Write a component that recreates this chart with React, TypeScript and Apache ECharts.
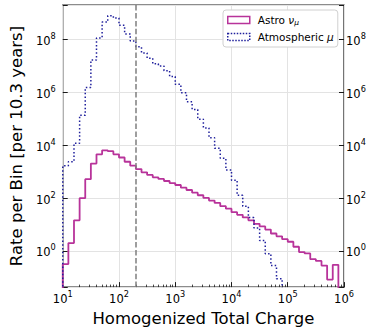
import React, { useEffect, useRef } from 'react';
import * as echarts from 'echarts';

// Histogram binning: 50 log-uniform bins from 10^1 to 10^6
const binLogMin = 1;
const binLogMax = 6;
const binCount = 50;

// Rate per bin [per 10.3 years]
const astroNuMu = [
  0.32, 2.0, 14.5, 100, 525, 2040, 4570, 6460, 6030, 4570,
  3470, 2400, 1700, 1260, 955, 760, 617, 537, 447, 372,
  316, 251, 204, 162, 129, 102, 81, 66, 50, 40,
  29.5, 23.4, 18.6, 14.5, 10.7, 8.5, 6.5, 4.6, 3.6, 2.8,
  2.24, 1.45, 0.91, 0.81, 0.49, 0.42, 0.28, 0.083, 0.3, 0,
];

const atmosphericMu = [
  1700, 2400, 12000, 138000, 1.55e6, 1.7e7, 1.17e8, 4.68e8, 8.13e8, 6.6e8,
  3.55e8, 1.66e8, 8.9e7, 5.37e7, 3.16e7, 2.0e7, 1.23e7, 1.02e7, 6.76e6, 4.07e6,
  2.04e6, 9.8e5, 4.47e5, 2.29e5, 9.8e4, 4.57e4, 1.95e4, 7760, 3240, 1175,
  479, 129, 49, 18.6, 7.4, 2.5, 0.79, 0.28, 0.089, 0,
  0, 0, 0, 0, 0, 0, 0, 0, 0, 0,
];

const seriesNames = ['Astro ν_μ', 'Atmospheric μ'];
const thresholdCharge = 200;

// axis extents (log10 space)
const xLogMin = 1;
const xLogMax = 6;
const yLogMin = -1.367;
const yLogMax = 9.315;
const yMajorExponents = [0, 2, 4, 6, 8];
const xMinorMultipliers = [2, 3, 4, 5, 6, 7, 8, 9];

const FONT = "'DejaVu Sans', sans-serif";
const MAGENTA = '#b8339a';
const BLUE = '#1f1f9c';
const FRAME = '#1a1a1a';

function stepData(values: number[]): number[][] {
  const floor = yLogMin - 6;
  const w = (binLogMax - binLogMin) / binCount;
  const lv = values.map((v) => (v > 0 ? Math.log10(v) : floor));
  const pts: number[][] = [[binLogMin, floor]];
  lv.forEach((v, i) => pts.push([binLogMin + i * w, v]));
  pts.push([binLogMax, lv[lv.length - 1]]);
  pts.push([binLogMax, floor]);
  return pts;
}

const xMinorTicks: number[] = [];
for (let e = xLogMin; e < xLogMax; e++) {
  xMinorMultipliers.forEach((m) => xMinorTicks.push(e + Math.log10(m)));
}

const tickRich = {
  b: { fontFamily: FONT, fontSize: 11.5, color: '#000', lineHeight: 15, verticalAlign: 'bottom' },
  s: { fontFamily: FONT, fontSize: 8.2, color: '#000', lineHeight: 9, verticalAlign: 'top' },
};

function powLabelX(v: number): string {
  const r = Math.round(v);
  if (Math.abs(v - r) > 1e-6) return '';
  return `{b|10}{s|${r}}`;
}
function powLabelY(v: number): string {
  const r = Math.round(v);
  if (Math.abs(v - r) > 1e-6 || yMajorExponents.indexOf(r) < 0) return '';
  return `{b|10}{s|${r}}`;
}

export default function App() {
  const ref = useRef<HTMLDivElement>(null);
  useEffect(() => {
    if (!ref.current) return;
    const chart = echarts.init(ref.current, null, { renderer: 'svg' });
    const yAxisCommon = {
      type: 'value',
      min: yLogMin,
      max: yLogMax,
      splitNumber: 5,
      axisLine: { show: false, onZero: false },
      axisTick: { show: true, inside: true, length: 5, lineStyle: { color: FRAME, width: 1 } },
    };
    const option: any = {
      animation: false,
      backgroundColor: '#ffffff',
      textStyle: { fontFamily: FONT },
      grid: {
        left: 49,
        top: 5,
        right: 30,
        bottom: 40,
        show: true,
        borderColor: FRAME,
        borderWidth: 1.2,
        backgroundColor: 'transparent',
      },
      legend: {
        orient: 'vertical',
        left: 223,
        top: 10,
        padding: [4, 4, 4, 4],
        itemGap: 5,
        itemWidth: 22,
        itemHeight: 7,
        backgroundColor: '#ffffff',
        borderColor: '#d0d0d0',
        borderWidth: 1,
        borderRadius: 3,
        selectedMode: false,
        textStyle: {
          fontFamily: FONT,
          fontSize: 10.5,
          color: '#000',
          lineHeight: 12,
          padding: [0, 0, 0, 3],
          rich: {
            it: { fontFamily: FONT, fontSize: 10.5, fontStyle: 'italic', color: '#000' },
            sub: { fontFamily: FONT, fontSize: 7.5, fontStyle: 'italic', color: '#000', verticalAlign: 'bottom', lineHeight: 10 },
          },
        },
        formatter: (name: string) =>
          name === seriesNames[0] ? 'Astro {it|ν}{sub|μ}' : 'Atmospheric {it|μ}',
        data: [
          {
            name: seriesNames[0],
            icon: 'rect',
            itemStyle: { color: 'rgba(255,255,255,0)', borderColor: MAGENTA, borderWidth: 1.5 },
          },
          {
            name: seriesNames[1],
            icon: 'rect',
            itemStyle: { color: 'rgba(255,255,255,0)', borderColor: BLUE, borderWidth: 1.5, borderType: [1.5, 1.5] },
          },
        ],
      },
      xAxis: [
        {
          type: 'value',
          min: xLogMin,
          max: xLogMax,
          interval: 1,
          position: 'bottom',
          name: 'Homogenized Total Charge',
          nameLocation: 'middle',
          nameGap: 14,
          nameTextStyle: { fontFamily: FONT, fontSize: 16.5, color: '#000' },
          axisLine: { show: false, onZero: false },
          axisTick: { show: true, inside: true, length: 5, lineStyle: { color: FRAME, width: 1 } },
          axisLabel: { margin: 3, formatter: powLabelX, rich: tickRich },
          splitLine: { show: true, lineStyle: { color: '#e3e3e3', width: 1 } },
        },
        {
          type: 'value',
          min: xLogMin,
          max: xLogMax,
          position: 'bottom',
          axisLine: { show: false, onZero: false },
          axisLabel: { show: false },
          splitLine: { show: false },
          axisTick: {
            show: true,
            inside: true,
            length: 2.5,
            customValues: xMinorTicks,
            lineStyle: { color: FRAME, width: 0.8 },
          },
        },
      ],
      yAxis: [
        {
          ...yAxisCommon,
          position: 'left',
          name: 'Rate per Bin [per 10.3 years]',
          nameLocation: 'middle',
          nameGap: 27,
          nameRotate: 90,
          nameTextStyle: { fontFamily: FONT, fontSize: 16.5, color: '#000' },
          axisLabel: { margin: 7, formatter: powLabelY, rich: tickRich },
          splitLine: { show: true, lineStyle: { color: '#e3e3e3', width: 1 } },
        },
        {
          ...yAxisCommon,
          position: 'right',
          axisLabel: { margin: 2, formatter: powLabelY, rich: tickRich },
          splitLine: { show: false },
        },
      ],
      series: [
        {
          name: seriesNames[0],
          type: 'line',
          xAxisIndex: 0,
          yAxisIndex: 0,
          step: 'end',
          symbol: 'none',
          clip: true,
          data: stepData(astroNuMu),
          lineStyle: { color: MAGENTA, width: 1.8 },
          itemStyle: { color: MAGENTA },
          z: 3,
          markLine: {
            silent: true,
            symbol: ['none', 'none'],
            label: { show: false },
            lineStyle: { color: '#7f7f7f', type: [5.5, 2.4], width: 1.5 },
            data: [{ xAxis: Math.log10(thresholdCharge) }],
          },
        },
        {
          name: seriesNames[1],
          type: 'line',
          xAxisIndex: 0,
          yAxisIndex: 0,
          step: 'end',
          symbol: 'none',
          clip: true,
          data: stepData(atmosphericMu),
          lineStyle: { color: BLUE, width: 1.5, type: [1.5, 2.2] },
          itemStyle: { color: BLUE },
          z: 4,
        },
      ],
    };
    chart.setOption(option);
    return () => chart.dispose();
  }, []);
  return (
    <div
      ref={ref}
      style={{ position: 'absolute', left: 0, top: 0, width: 374, height: 332 }}
    />
  );
}
